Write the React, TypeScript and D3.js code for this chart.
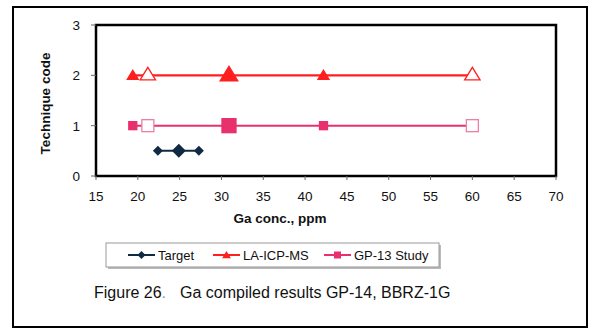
import React from "react";
import * as d3 from "d3";

// Ga conc. (ppm) by technique code
const targetX = [22.4, 24.9, 27.3];
const targetY = [0.5, 0.5, 0.5];
const laIcpX = [19.4, 21.2, 30.9, 42.2, 60.0];
const laIcpY = [2, 2, 2, 2, 2];
const gp13X = [19.4, 21.2, 30.9, 42.2, 60.0];
const gp13Y = [1, 1, 1, 1, 1];

const xTicks = [15, 20, 25, 30, 35, 40, 45, 50, 55, 60, 65, 70];
const yTicks = [0, 1, 2, 3];
const legendLabels = ["Target", "LA-ICP-MS", "GP-13 Study"];

// marker look per point (filled small, open, filled big, filled small, open)
const pointKinds = ["small", "open", "big", "small", "open"];
const targetKinds = ["small", "big", "small"];

const W = 597;
const H = 329;
const plot = { left: 96, top: 25, right: 556, bottom: 176 };

const NAVY = "#112a44";
const RED = "#ff1f1f";
const PINK = "#e8306c";

const font = "'Liberation Sans', Arial, sans-serif";

const triangle = (cx: number, cy: number, s: number) =>
  `M${cx},${cy - s} L${cx + s * 1.1},${cy + s * 0.8} L${cx - s * 1.1},${cy + s * 0.8} Z`;
const diamond = (cx: number, cy: number, s: number) =>
  `M${cx},${cy - s} L${cx + s},${cy} L${cx},${cy + s} L${cx - s},${cy} Z`;

export default function App() {
  const x = d3.scaleLinear().domain([15, 70]).range([plot.left, plot.right]);
  const y = d3.scaleLinear().domain([0, 3]).range([plot.bottom, plot.top]);
  const line = d3.line<[number, number]>().x((d) => x(d[0])).y((d) => y(d[1]));

  const zip = (xs: number[], ys: number[]) => xs.map((v, i) => [v, ys[i]] as [number, number]);

  const tri = (cx: number, cy: number, kind: string, key: number) => {
    const s = kind === "big" ? 8 : kind === "open" ? 7 : 5;
    return (
      <path
        key={key}
        d={triangle(cx, cy - (kind === "small" ? 0 : 1), s)}
        fill={kind === "open" ? "white" : RED}
        stroke={RED}
        strokeWidth={1.3}
      />
    );
  };
  const sq = (cx: number, cy: number, kind: string, key: number) => {
    const s = kind === "big" ? 7 : kind === "open" ? 6 : 4;
    return (
      <rect
        key={key}
        x={cx - s}
        y={cy - s}
        width={s * 2}
        height={s * 2}
        fill={kind === "open" ? "white" : PINK}
        stroke={kind === "open" ? "#ec7fa3" : PINK}
        strokeWidth={1.3}
      />
    );
  };

  const legendItems = [
    { x: 128, color: NAVY, marker: "diamond" },
    { x: 213, color: RED, marker: "triangle" },
    { x: 324, color: PINK, marker: "square" },
  ];

  return (
    <svg width={W} height={H} style={{ position: "absolute", left: 0, top: 0 }} fontFamily={font}>
      <rect x={0} y={0} width={W} height={H} fill="white" />
      {/* outer frame */}
      <rect x={13} y={7} width={574} height={320} fill="none" stroke="#000" strokeWidth={2} />

      {/* plot frame */}
      <rect
        x={plot.left}
        y={plot.top}
        width={plot.right - plot.left}
        height={plot.bottom - plot.top}
        fill="white"
        stroke="#000"
        strokeWidth={2.5}
      />

      {/* y ticks */}
      {yTicks.map((t) => (
        <g key={t}>
          <line x1={plot.left - 5} x2={plot.left} y1={y(t)} y2={y(t)} stroke="#666" strokeWidth={1} />
          <text x={plot.left - 16} y={y(t)} dy="0.36em" textAnchor="end" fontSize={13.5} fill="#111">
            {t}
          </text>
        </g>
      ))}

      {/* x ticks */}
      {xTicks.map((t) => (
        <g key={t}>
          <line x1={x(t)} x2={x(t)} y1={plot.bottom} y2={plot.bottom + 4} stroke="#666" strokeWidth={1} />
          <text x={x(t)} y={plot.bottom + 25} textAnchor="middle" fontSize={13.5} fill="#111">
            {t}
          </text>
        </g>
      ))}

      <text
        transform={`translate(50,${(plot.top + plot.bottom) / 2 + 3}) rotate(-90)`}
        textAnchor="middle"
        fontSize={13.5}
        fontWeight="bold"
        fill="#111"
      >
        Technique code
      </text>
      <text x={280} y={223} textAnchor="middle" fontSize={13.5} fontWeight="bold" fill="#111">
        Ga conc., ppm
      </text>

      {/* series lines */}
      <path d={line(zip(gp13X, gp13Y)) || ""} fill="none" stroke={PINK} strokeWidth={2} />
      <path d={line(zip(laIcpX, laIcpY)) || ""} fill="none" stroke={RED} strokeWidth={2.2} />
      <path d={line(zip(targetX, targetY)) || ""} fill="none" stroke={NAVY} strokeWidth={2} />

      {gp13X.map((v, i) => sq(x(v), y(gp13Y[i]), pointKinds[i], i))}
      {laIcpX.map((v, i) => tri(x(v), y(laIcpY[i]), pointKinds[i], i))}
      {targetX.map((v, i) => (
        <path key={i} d={diamond(x(v), y(targetY[i]), targetKinds[i] === "big" ? 7 : 5)} fill={NAVY} />
      ))}

      {/* legend */}
      <rect x={108} y={245} width={333} height={24} fill="#bbb" />
      <rect x={106} y={243} width={333} height={24} fill="white" stroke="#999" strokeWidth={1} />
      {legendItems.map((it, i) => (
        <g key={i}>
          <line x1={it.x} x2={it.x + 27} y1={255} y2={255} stroke={it.color} strokeWidth={2} />
          {it.marker === "diamond" && <path d={diamond(it.x + 13.5, 255, 4)} fill={it.color} />}
          {it.marker === "triangle" && <path d={triangle(it.x + 13.5, 255, 4)} fill={it.color} />}
          {it.marker === "square" && (
            <rect x={it.x + 10} y={251.5} width={7} height={7} fill={it.color} />
          )}
          <text x={it.x + 30} y={255} dy="0.36em" fontSize={13} fill="#111">
            {legendLabels[i]}
          </text>
        </g>
      ))}

      {/* caption */}
      <text x={94} y={298} fontSize={16} fill="#111">
        Figure 26
        <tspan fill="#999">.</tspan>
        <tspan dx={14}>Ga compiled results GP-14, BBRZ-1G</tspan>
      </text>
    </svg>
  );
}
